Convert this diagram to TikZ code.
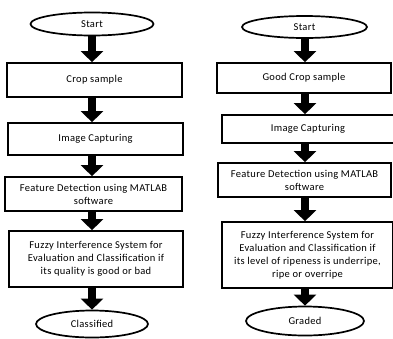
\documentclass[tikz,border=0pt]{standalone}
\usepackage{fontspec}
\setmainfont{Carlito}[LetterSpace=3]
\usetikzlibrary{shapes.geometric,arrows.meta}
\begin{document}
\begin{tikzpicture}[x=1pt,y=-1pt,
  every node/.style={font=\fontsize{10.5}{13}\selectfont, align=center, inner sep=0pt},
  procbox/.style={draw=black, line width=1.7pt, rectangle},
  termin/.style={draw=black, line width=1.7pt, ellipse},
  blockarrow/.style={line width=8pt, -{Triangle[width=22pt,length=11pt]}}
]
\useasboundingbox (0,0) rectangle (393,338);
\coordinate (colL) at (92,0);
\coordinate (colR) at (305,0);
% left column
\node[termin, minimum width=123pt, minimum height=23pt] (startL) at (92,24) {Start};
\node[procbox, minimum width=175pt, minimum height=34pt] (cropL) at (94.5,80) {Crop sample};
\node[procbox, minimum width=175pt, minimum height=32pt] (imgL) at (95.5,139) {Image Capturing};
\node[procbox, minimum width=177pt, minimum height=34pt] (featL) at (93.5,194) {Feature Detection using MATLAB\\software};
\node[procbox, minimum width=174pt, minimum height=56pt] (fuzzyL) at (96,259) {Fuzzy Interference System for\\Evaluation and Classification if\\its quality is good or bad};
\node[termin, minimum width=112pt, minimum height=27pt] (classL) at (92,324) {Classified};
% right column
\node[termin, minimum width=125pt, minimum height=22pt] (startR) at (304.5,27) {Start};
\node[procbox, minimum width=174pt, minimum height=30pt] (goodR) at (304,78) {Good Crop sample};
\node[procbox, minimum width=172pt, minimum height=28pt] (imgR) at (308,129) {Image Capturing};
\node[procbox, minimum width=173pt, minimum height=34pt] (featR) at (304.5,180) {Feature Detection using MATLAB\\software};
\node[procbox, minimum width=171pt, minimum height=66pt] (fuzzyR) at (307.5,255) {Fuzzy Interference System for\\Evaluation and Classification if\\its level of ripeness is underripe,\\ripe or overripe};
\node[termin, minimum width=118pt, minimum height=29pt] (gradedR) at (305,321) {Graded};
% arrows left
\draw[blockarrow] (startL.south -| colL) -- (cropL.north -| colL);
\draw[blockarrow] (cropL.south -| colL) -- (imgL.north -| colL);
\draw[blockarrow] (imgL.south -| colL) -- (featL.north -| colL);
\draw[blockarrow] (featL.south -| colL) -- (fuzzyL.north -| colL);
\draw[blockarrow] (fuzzyL.south -| colL) -- (classL.north -| colL);
% arrows right
\draw[blockarrow] (startR.south -| colR) -- (goodR.north -| colR);
\draw[blockarrow] (goodR.south -| colR) -- (imgR.north -| colR);
\draw[blockarrow] (imgR.south -| colR) -- (featR.north -| colR);
\draw[blockarrow] (featR.south -| colR) -- (fuzzyR.north -| colR);
\draw[blockarrow] (fuzzyR.south -| colR) -- (gradedR.north -| colR);
\end{tikzpicture}
\end{document}
